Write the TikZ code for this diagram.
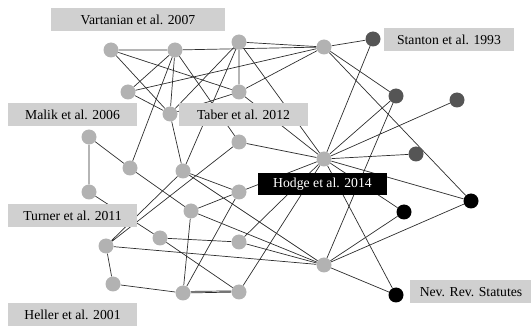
\documentclass[tikz,border=0pt]{standalone}
\usepackage{fontspec}
\setmainfont{Liberation Serif}
\definecolor{dotgray}{RGB}{178,178,178}
\definecolor{dotdark}{RGB}{85,85,85}
\definecolor{tagfill}{RGB}{208,208,208}
\definecolor{linecol}{RGB}{45,45,45}
\pgfdeclarelayer{background}
\pgfsetlayers{background,main}

\begin{document}
\begin{tikzpicture}[x=1pt,y=-1pt,
  dot/.style={circle,inner sep=0pt,minimum size=15pt},
  lit/.style={dot,fill=dotgray},
  mid/.style={dot,fill=dotdark},
  blk/.style={dot,fill=black},
  tag/.style={fill=tagfill,inner sep=0pt,minimum height=23pt,
    font=\fontsize{13.7}{16}\selectfont},
  link/.style={draw=linecol,line width=0.7pt}]
\useasboundingbox (0,0) rectangle (531,326);
% light nodes
\node[lit] (A) at (111,50) {};
\node[lit] (B) at (175,50) {};
\node[lit] (C) at (239,42) {};
\node[lit] (D) at (324,47) {};
\node[lit] (E) at (128,92) {};
\node[lit] (F) at (239,92) {};
\node[lit] (G) at (170,114) {};
\node[lit] (H) at (89,137) {};
\node[lit] (I) at (130,168) {};
\node[lit] (J) at (183,171) {};
\node[lit] (K) at (239,142) {};
\node[lit] (L) at (324,159) {};
\node[lit] (M) at (89,192) {};
\node[lit] (N) at (239,192) {};
\node[lit] (O) at (191,211) {};
\node[lit] (P) at (160,238) {};
\node[lit] (Q) at (239,242) {};
\node[lit] (R) at (106,246) {};
\node[lit] (S) at (113,284) {};
\node[lit] (T) at (183,293) {};
\node[lit] (U) at (239,292) {};
\node[lit] (V) at (324,265) {};
% dark and black nodes
\node[mid] (W) at (373,39) {};
\node[mid] (X) at (396,96) {};
\node[mid] (Y) at (457,100) {};
\node[mid] (Z) at (416,154) {};
\node[blk] (AA) at (404,212) {};
\node[blk] (AB) at (471,201) {};
\node[blk] (AC) at (396,295) {};
% edges
\begin{pgfonlayer}{background}
\draw[link] (A) -- (B) (A) -- (F) (A) -- (G);
\draw[link] (B) -- (D) (B) -- (E) (B) -- (G) (B) -- (I) (B) -- (K);
\draw[link] (C) -- (D) (C) -- (F) (C) -- (G) (C) -- (L) (C) -- (J);
\draw[link] (D) -- (E) (D) -- (F) (D) -- (W) (D) -- (X) (D) -- (AB);
\draw[link] (E) -- (G) (F) -- (G) (F) -- (L) (G) -- (J);
\draw[link] (W) -- (L) (X) -- (L) (X) -- (V) (Y) -- (L) (Z) -- (L) (K) -- (L);
\draw[link] (H) -- (M) (H) -- (I) (I) -- (O) (M) -- (P);
\draw[link] (R) -- (J) (R) -- (K) (R) -- (S) (R) -- (V);
\draw[link] (J) -- (N) (J) -- (V) (O) -- (N) (O) -- (T) (O) -- (V);
\draw[link] (N) -- (T) (N) -- (L) (P) -- (Q) (P) -- (U);
\draw[link] (Q) -- (L) (Q) -- (V) (U) -- (L) (S) -- (T) (T) -- (U) (T.12) -- (U.172);
\draw[link] (L) -- (AA) (L) -- (AB) (L) -- (AC);
\draw[link] (V) -- (AA) (V) -- (AB) (V) -- (AC);
\end{pgfonlayer}
% labels
\node[tag,minimum width=174pt] (vartanian) at (138,19.5) {Vartanian et al. 2007};
\node[tag,minimum width=130pt] (stanton) at (449,39.5) {Stanton et al. 1993};
\node[tag,minimum width=129pt] (malik) at (72.5,114.5) {Malik et al. 2006};
\node[tag,minimum width=129pt] (taber) at (243.5,114.5) {Taber et al. 2012};
\node[tag,minimum width=129pt,minimum height=22pt,fill=black,text=white] (hodge) at (322.5,184) {Hodge et al. 2014};
\node[tag,minimum width=129pt] (turner) at (72.5,216) {Turner et al. 2011};
\node[tag,minimum width=122pt] (nev) at (471,292) {Nev. Rev. Statutes};
\node[tag,minimum width=129pt] (heller) at (72.5,314.5) {Heller et al. 2001};
\end{tikzpicture}
\end{document}
